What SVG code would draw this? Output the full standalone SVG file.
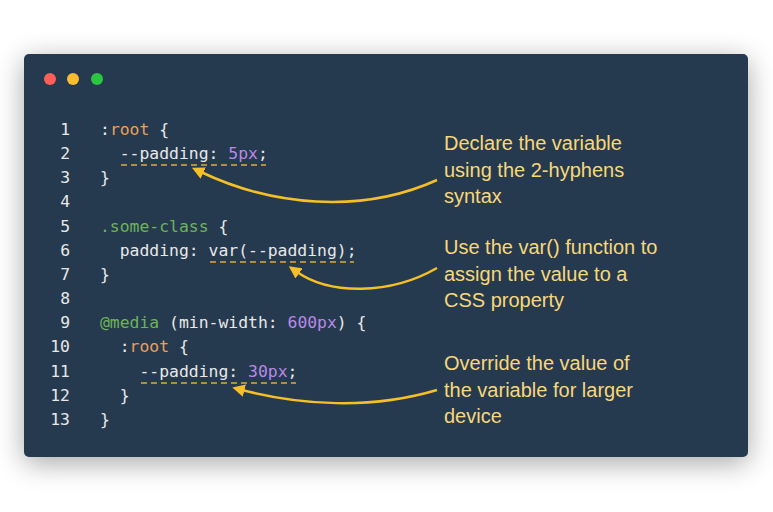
<svg xmlns="http://www.w3.org/2000/svg" width="773" height="512" viewBox="0 0 773 512">
<defs>
<filter id="sh" x="-20%" y="-20%" width="140%" height="140%"><feGaussianBlur stdDeviation="14"/></filter>
<marker id="ah" viewBox="0 0 10 10" refX="2" refY="5" markerWidth="5" markerHeight="5" orient="auto-start-reverse"><path d="M0,0 L10,5 L0,10 z" fill="#f6bf26"/></marker>
<style>
.c{font-family:"DejaVu Sans Mono",monospace;font-size:16.4px;fill:#e8e8e8}
.n{text-anchor:end}
.o{fill:#e8a05a}.g{fill:#6db35a}.p{fill:#b889e6}
.a{font-family:"Liberation Sans",Arial,sans-serif;font-size:20px;fill:#f7d77a}
.u{stroke:#e0a93a;stroke-width:1.5;stroke-dasharray:6,4;fill:none}
.l{stroke:#f6bf26;stroke-width:2.5;fill:none;marker-end:url(#ah)}
</style>
</defs>
<rect width="773" height="512" fill="#ffffff"/>
<rect x="24" y="60" width="724" height="403" rx="6" fill="#000" opacity="0.35" filter="url(#sh)"/>
<g id="window">
<rect x="24" y="54" width="724" height="403" rx="5" fill="#263a4f"/>
<circle cx="50" cy="79" r="6" fill="#fc5f57"/>
<circle cx="73" cy="79" r="6" fill="#fdbc2e"/>
<circle cx="97" cy="79" r="6" fill="#29c840"/>
</g>
<g id="code">
<text class="c n" x="70" y="135">1</text>
<text class="c n" x="70" y="159">2</text>
<text class="c n" x="70" y="183">3</text>
<text class="c n" x="70" y="207">4</text>
<text class="c n" x="70" y="232">5</text>
<text class="c n" x="70" y="256">6</text>
<text class="c n" x="70" y="280">7</text>
<text class="c n" x="70" y="304">8</text>
<text class="c n" x="70" y="328">9</text>
<text class="c n" x="70" y="352">10</text>
<text class="c n" x="70" y="377">11</text>
<text class="c n" x="70" y="401">12</text>
<text class="c n" x="70" y="425">13</text>
<text class="c" x="100" y="135" xml:space="preserve">:<tspan class="o">root</tspan> {</text>
<text class="c" x="100" y="159" xml:space="preserve">  --padding: <tspan class="p">5px</tspan>;</text>
<text class="c" x="100" y="183">}</text>
<text class="c" x="100" y="232" xml:space="preserve"><tspan class="g">.some-class</tspan> {</text>
<text class="c" x="100" y="256" xml:space="preserve">  padding: var(--padding);</text>
<text class="c" x="100" y="280">}</text>
<text class="c" x="100" y="328" xml:space="preserve"><tspan class="g">@media</tspan> (min-width: <tspan class="p">600px</tspan>) {</text>
<text class="c" x="100" y="352" xml:space="preserve">  :<tspan class="o">root</tspan> {</text>
<text class="c" x="100" y="377" xml:space="preserve">    --padding: <tspan class="p">30px</tspan>;</text>
<text class="c" x="100" y="401" xml:space="preserve">  }</text>
<text class="c" x="100" y="425">}</text>
</g>
<g id="annotations">
<text class="a" x="444" y="150">Declare the variable</text>
<text class="a" x="444" y="177">using the 2-hyphens</text>
<text class="a" x="444" y="203">syntax</text>
<text class="a" x="444" y="254">Use the var() function to</text>
<text class="a" x="444" y="281">assign the value to a</text>
<text class="a" x="444" y="307">CSS property</text>
<text class="a" x="444" y="370">Override the value of</text>
<text class="a" x="444" y="397">the variable for larger</text>
<text class="a" x="444" y="423">device</text>
</g>
<g id="connectors">
<path class="u" d="M121,165 H266"/>
<path class="u" d="M210,262 H354"/>
<path class="u" d="M141,383 H296"/>
<path class="l" d="M437,180 C360,215 270,205 201,172"/>
<path class="l" d="M437,268 C390,295 330,295 297,272"/>
<path class="l" d="M437,390 C370,410 300,405 242,390"/>
</g>
</svg>
